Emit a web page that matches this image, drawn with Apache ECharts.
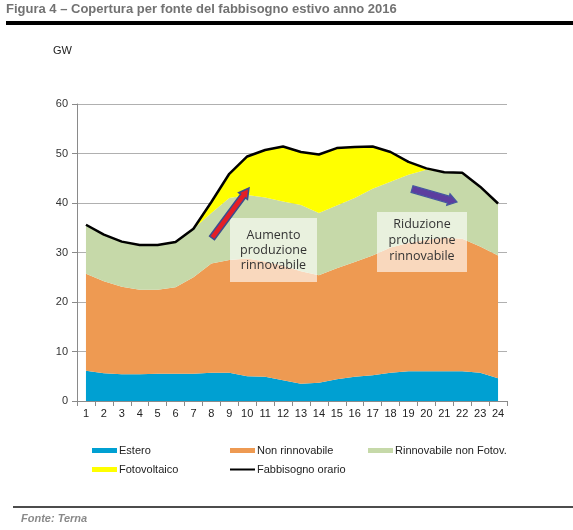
<!DOCTYPE html>
<html>
<head>
<meta charset="utf-8">
<script src="https://cdn.jsdelivr.net/npm/echarts@6/dist/echarts.min.js"></script>
<style>
html,body{margin:0;padding:0;background:#fff;}
#c{width:573px;height:530px;}
</style>
</head>
<body>
<div id="c"></div>
<script>
const hours = ['1','2','3','4','5','6','7','8','9','10','11','12','13','14','15','16','17','18','19','20','21','22','23','24'];
const estero = [6.1,5.6,5.4,5.4,5.5,5.5,5.5,5.7,5.7,5.0,4.9,4.2,3.5,3.7,4.4,4.9,5.2,5.7,6.0,6.0,6.0,6.0,5.7,4.6];
const nonRinnovabile = [19.6,18.6,17.7,17.1,17.0,17.5,19.5,22.1,22.8,23.8,23.3,23.1,22.7,21.7,22.4,23.2,24.2,25.3,25.9,26.6,27.0,26.8,25.5,24.8];
const rinnovabileNonFotov = [9.9,9.4,9.1,9.0,9.0,9.1,9.8,10.2,12.5,12.8,12.9,13.0,13.4,12.6,12.7,12.9,13.5,13.3,13.8,14.1,13.2,13.3,12.1,10.5];
const fotovoltaico = [0,0,0,0,0,0,0,2.2,4.9,7.8,9.6,11.1,10.7,11.8,11.6,10.3,8.5,6.0,2.6,0.3,0,0,0,0];
const fabbisognoOrario = [35.6,33.6,32.2,31.5,31.5,32.1,34.8,40.2,45.9,49.4,50.7,51.4,50.3,49.8,51.1,51.3,51.4,50.3,48.3,47.0,46.2,46.1,43.3,39.9];
const yTicks = {min: 0, max: 60, interval: 10};

const names = ['Estero','Non rinnovabile','Rinnovabile non Fotov.','Fotovoltaico','Fabbisogno orario'];
const colors = ['#00a0d2','#ee9a52','#c6d9a9','#ffff00','#000000'];
const F = '"Liberation Sans", Arial, sans-serif';

function area(i, data) {
  return {
    name: names[i], type: 'line', stack: 'tot', data: data,
    symbol: 'none', smooth: false,
    lineStyle: {width: 0, color: colors[i]},
    itemStyle: {color: colors[i]},
    areaStyle: {color: colors[i], opacity: 1},
    z: 2
  };
}

function arrowPts(x1, y1, x2, y2, sw, hw, hl) {
  const dx = x2 - x1, dy = y2 - y1, L = Math.sqrt(dx*dx + dy*dy);
  const ux = dx / L, uy = dy / L, px = -uy, py = ux;
  const bx = x2 - ux * hl, by = y2 - uy * hl;
  return [
    [x1 + px*sw/2, y1 + py*sw/2],
    [bx + px*sw/2, by + py*sw/2],
    [bx + px*hw/2, by + py*hw/2],
    [x2, y2],
    [bx - px*hw/2, by - py*hw/2],
    [bx - px*sw/2, by - py*sw/2],
    [x1 - px*sw/2, y1 - py*sw/2]
  ];
}

function legendAt(i, left, top, h) {
  return {
    data: [{name: names[i], icon: 'rect'}],
    left: left, top: top, itemWidth: 25, itemHeight: h,
    padding: 0,
    textStyle: {fontFamily: F, fontSize: 11, color: '#222', padding: [0,0,0,-3]},
    selectedMode: false
  };
}

const chart = echarts.init(document.getElementById('c'), null, {renderer: 'canvas'});
chart.setOption({
  animation: false,
  backgroundColor: '#fff',
  grid: {left: 77, right: 66, top: 104, bottom: 129, containLabel: false},
  xAxis: {
    type: 'category', data: hours, boundaryGap: true,
    axisLine: {lineStyle: {color: '#8a8a8a', width: 1}},
    axisTick: {show: true, length: 5, lineStyle: {color: '#8a8a8a'}},
    axisLabel: {fontFamily: F, fontSize: 11, color: '#222', margin: 7}
  },
  yAxis: {
    type: 'value', min: yTicks.min, max: yTicks.max, interval: yTicks.interval,
    axisLine: {show: true, lineStyle: {color: '#8a8a8a', width: 1}},
    axisTick: {show: true, length: 5, lineStyle: {color: '#8a8a8a'}},
    axisLabel: {fontFamily: F, fontSize: 11, color: '#333', margin: 9},
    splitLine: {show: true, lineStyle: {color: '#b0b0b0', width: 1}}
  },
  legend: [
    legendAt(0, 92, 445, 5),
    legendAt(1, 230, 445, 5),
    legendAt(2, 368, 445, 5),
    legendAt(3, 92, 464, 5),
    legendAt(4, 230, 464, 2)
  ],
  series: [
    area(0, estero),
    area(1, nonRinnovabile),
    area(2, rinnovabileNonFotov),
    area(3, fotovoltaico),
    {
      name: names[4], type: 'line', data: fabbisognoOrario, symbol: 'none',
      lineStyle: {color: '#000', width: 2.5},
      itemStyle: {color: '#000'}, z: 5
    }
  ],
  graphic: [
    {type: 'text', left: 6, top: 3, style: {text: 'Figura 4 – Copertura per fonte del fabbisogno estivo anno 2016', font: 'bold 13px ' + F, fill: '#727272'}},
    {type: 'rect', shape: {x: 6, y: 21, width: 567, height: 4}, style: {fill: '#000'}},
    {type: 'text', left: 53, top: 45, style: {text: 'GW', font: '11px ' + F, fill: '#222'}},
    {type: 'line', shape: {x1: 13, y1: 507, x2: 573, y2: 507}, style: {stroke: '#111', lineWidth: 1.5}},
    {type: 'text', left: 21, top: 513, style: {text: 'Fonte: Terna', font: 'italic bold 11px ' + F, fill: '#8a8a8a'}},
    {type: 'rect', z: 20, shape: {x: 230, y: 218, width: 87, height: 64}, style: {fill: 'rgba(255,255,255,0.62)'}},
    {type: 'text', z: 21, x: 273.5, y: 250, style: {text: 'Aumento\nproduzione\nrinnovabile', font: '12.5px "Open Sans", sans-serif', lineHeight: 15, fill: '#333', align: 'center', verticalAlign: 'middle'}},
    {type: 'rect', z: 20, shape: {x: 377, y: 212, width: 90, height: 60}, style: {fill: 'rgba(255,255,255,0.62)'}},
    {type: 'text', z: 21, x: 422, y: 240, style: {text: 'Riduzione\nproduzione\nrinnovabile', font: '12.5px "Open Sans", sans-serif', lineHeight: 16, fill: '#333', align: 'center', verticalAlign: 'middle'}},
    {type: 'polygon', z: 22, shape: {points: arrowPts(212, 238, 249, 188, 6, 11, 10)}, style: {fill: '#e41e26', stroke: '#3b4d8e', lineWidth: 1.5}},
    {type: 'polygon', z: 22, shape: {points: arrowPts(412, 189, 457, 202, 7, 12, 9)}, style: {fill: '#5c3d9f', stroke: '#4658a0', lineWidth: 1.2}}
  ]
});
</script>
</body>
</html>
